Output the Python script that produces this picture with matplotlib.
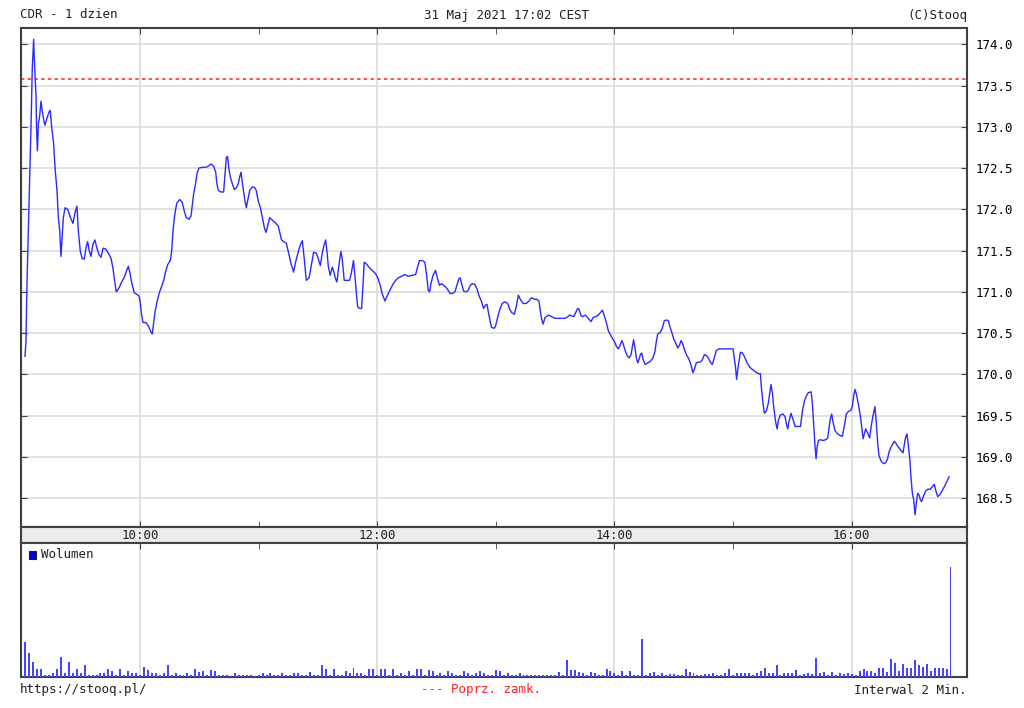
import numpy as np
import matplotlib
matplotlib.use("Agg")
import matplotlib.pyplot as plt
from matplotlib.patches import Rectangle

plt.rcParams['font.family'] = ['DejaVu Sans Mono']
plt.rcParams['font.size'] = 9

# ---- data (minutes after 9:00, price) ----
price_t = [
    1.8, 2.3, 2.8, 3.5, 4.2, 4.9, 5.5, 6.2, 6.5, 7.0, 7.4, 7.7, 8.1, 8.6, 9.2, 9.9,
    10.6, 11.3, 11.9, 13.0, 14.0, 14.6, 15.3, 16.3, 17.0, 18.0, 18.7, 19.4, 20.0,
    20.5, 21.2, 22.1, 23.4, 24.8, 26.1, 27.1, 28.1, 28.8, 29.8, 30.8, 31.8, 32.8,
    33.5, 34.4, 35.2, 36.2, 37.2, 38.2, 39.3, 40.3, 41.3, 42.6, 44.0, 45.3, 46.3,
    47.0, 48.0, 49.4, 50.7, 52.1, 53.4, 54.1, 54.9, 55.9, 57.1, 58.5, 59.5, 60.2,
    60.8, 61.5, 62.9, 64.2, 65.2, 66.2, 66.9, 67.6, 68.6, 69.9, 71.0, 72.0, 73.0,
    74.0, 75.3, 76.0, 76.7, 77.4, 78.0, 78.7, 80.1, 81.4, 82.4, 83.4, 84.8, 85.8,
    86.5, 87.1, 88.1, 88.8, 89.8, 91.7, 93.5, 94.9, 95.9, 97.3, 98.3, 98.9, 99.6,
    101.0, 102.3, 103.0, 103.7, 104.3, 105.0, 105.7, 106.7, 107.7, 108.7, 109.7,
    110.4, 111.1, 111.7, 113.1, 113.8, 114.4, 115.5, 116.8, 117.8, 118.8, 119.8,
    120.9, 121.9, 122.9, 123.7, 124.6, 125.6,
    126.9, 128.3, 129.9, 131.6, 132.6, 134.0, 135.0, 136.4, 137.7, 138.7, 140.1,
    141.1, 142.1, 143.1, 144.1, 145.5, 146.8, 147.8, 149.2, 150.2, 151.2, 152.2,
    152.9, 153.9, 154.6, 155.2, 156.2, 157.3, 158.1, 158.9, 159.6, 160.6, 161.6,
    162.3, 163.3, 164.7, 166.0, 167.0, 168.0, 168.7, 169.4, 170.1, 171.1, 172.1,
    172.8, 173.4, 174.5, 175.8, 177.5, 179.2, 180.5, 181.5, 182.5, 183.9, 185.2,
    186.6, 187.9, 189.3, 190.6, 192.3, 194.0, 195.7, 197.4, 199.4, 200.4, 201.4,
    202.8, 204.1, 205.0, 205.8, 206.5, 207.2, 208.2, 209.5, 210.5, 211.5, 212.6,
    213.6, 214.6, 215.9, 216.9, 217.9, 219.3, 220.3, 221.3, 222.0, 222.7, 223.7,
    225.0, 226.0, 227.1, 228.1, 229.4, 230.4, 231.4, 232.8, 233.8, 234.8, 235.5,
    236.5, 237.8, 239.2, 239.9, 240.9, 241.9, 243.2,
    244.6, 246.0, 247.0, 248.0, 249.4, 250.4, 251.4, 252.4, 253.8, 255.4, 256.8,
    258.1, 259.5, 260.8, 261.8, 262.5, 263.2, 263.9, 264.9, 266.6, 268.3, 269.9,
    272.5, 275.0, 276.4, 277.4, 278.4, 279.4, 280.4, 281.4, 282.1, 283.1, 284.1,
    285.1, 286.1, 287.1, 288.2, 289.2, 290.5, 291.9, 292.9, 293.9, 294.9, 295.9,
    296.9, 298.0, 298.9, 300.0, 301.0, 302.0, 303.0, 303.7, 304.3, 305.3, 306.4,
    307.4, 308.4, 309.1, 309.7, 310.4, 311.1, 311.8, 312.4, 313.1, 313.8, 314.4,
    315.5, 316.8, 318.2, 319.5, 320.5, 321.2, 321.9, 323.2, 324.2, 325.2, 326.3,
    327.3, 327.9, 329.0, 330.0, 331.0, 332.0, 333.0, 333.7, 334.4, 335.4, 336.4,
    337.4, 338.4, 339.1, 339.7, 340.4, 341.4, 342.4, 343.5, 344.5, 345.5, 346.5,
    347.5, 348.5, 349.5, 350.5, 351.5, 352.9, 356.6, 360.0, 360.6, 361.3, 361.8,
    362.3, 363.0, 363.7, 364.7, 365.7,
    367.1, 368.4, 369.8, 371.5, 372.8, 373.8, 374.5, 375.2, 375.9, 376.9, 377.9,
    378.6, 379.2, 379.9, 380.6, 381.6, 382.3, 382.9, 383.9, 385.3, 386.3, 387.0,
    387.7, 388.3, 389.3, 390.4, 391.4, 394.1, 395.1, 396.1, 397.1, 398.1, 399.5,
    400.1, 400.8, 401.5, 402.0, 402.5, 403.2, 404.2, 405.5, 406.9, 407.9, 408.6,
    409.2, 409.9, 410.6, 411.6, 412.9, 414.3, 415.3, 416.3, 417.3, 418.3, 419.7,
    420.4, 421.0, 421.7, 422.4, 423.4, 424.4, 425.1, 425.8, 426.4, 427.1, 428.1,
    429.1, 429.8, 430.8, 431.8, 432.5, 433.2, 433.8, 434.9, 436.2, 437.2, 438.2,
    438.9, 439.9, 440.9, 441.6, 442.6, 443.6, 445.0, 446.0, 446.7, 447.3, 448.0,
    448.7, 449.4, 450.0, 450.7, 451.4, 452.1, 452.7, 453.4, 454.1, 454.8, 455.4,
    456.4, 457.5, 458.5, 459.8, 460.8, 461.8, 462.5, 463.5, 464.5, 465.5, 466.9,
    467.9, 469.3,
]
price = [
    170.22, 170.39, 171.08, 171.74, 172.35, 173.04, 173.71, 174.06, 173.84, 173.57,
    173.37, 172.96, 172.71, 173.04, 173.12, 173.31, 173.18, 173.08, 173.02, 173.11,
    173.18, 173.20, 173.00, 172.80, 172.51, 172.23, 171.90, 171.74, 171.43, 171.61,
    171.90, 172.02, 172.00, 171.90, 171.83, 171.96, 172.04, 171.74, 171.49, 171.40,
    171.40, 171.55, 171.61, 171.49, 171.43, 171.58, 171.63, 171.53, 171.45, 171.42,
    171.53, 171.52, 171.47, 171.41, 171.29, 171.16, 171.00, 171.05, 171.12, 171.18,
    171.27, 171.31, 171.23, 171.10, 170.99, 170.97, 170.95, 170.86, 170.72, 170.63,
    170.63, 170.59, 170.53, 170.49, 170.63, 170.76, 170.88, 171.00, 171.07, 171.14,
    171.25, 171.33, 171.38, 171.49, 171.74, 171.90, 172.00, 172.08, 172.12, 172.08,
    171.98, 171.90, 171.88, 171.92, 172.06, 172.18, 172.31, 172.43, 172.50, 172.51,
    172.51, 172.53, 172.55, 172.52, 172.45, 172.31, 172.23, 172.21, 172.21, 172.43,
    172.63, 172.64, 172.49, 172.39, 172.31, 172.24, 172.26, 172.31, 172.39, 172.45,
    172.33, 172.10, 172.02, 172.10, 172.23, 172.27, 172.27, 172.23, 172.10, 172.02,
    171.90, 171.78, 171.72, 171.80, 171.90,
    171.87, 171.84, 171.80, 171.63, 171.61, 171.59, 171.49, 171.34, 171.24, 171.36,
    171.49, 171.57, 171.62, 171.40, 171.14, 171.17, 171.34, 171.48, 171.47, 171.40,
    171.32, 171.47, 171.55, 171.63, 171.49, 171.32, 171.20, 171.30, 171.24, 171.16,
    171.12, 171.32, 171.49, 171.40, 171.14, 171.14, 171.14, 171.24, 171.38, 171.20,
    171.00, 170.82, 170.80, 170.80, 171.08, 171.36, 171.34, 171.30, 171.26, 171.22,
    171.16, 171.08, 170.98, 170.89, 170.96, 171.03, 171.09, 171.14, 171.17, 171.19,
    171.21, 171.19, 171.20, 171.21, 171.30, 171.38, 171.38, 171.36, 171.20, 171.02,
    171.00, 171.10, 171.20, 171.26, 171.16, 171.08, 171.10, 171.08, 171.06, 171.02,
    170.98, 170.98, 171.00, 171.08, 171.16, 171.17, 171.10, 171.01, 171.00, 171.02,
    171.08, 171.10, 171.09, 171.04, 170.96, 170.88, 170.80, 170.84, 170.85, 170.72,
    170.57, 170.56, 170.59, 170.69, 170.78, 170.86,
    170.88, 170.86, 170.79, 170.75, 170.73, 170.83, 170.96, 170.91, 170.86, 170.86,
    170.89, 170.93, 170.91, 170.91, 170.89, 170.77, 170.67, 170.61, 170.69, 170.72,
    170.70, 170.68, 170.68, 170.68, 170.70, 170.72, 170.71, 170.70, 170.75, 170.80,
    170.79, 170.71, 170.70, 170.72, 170.70, 170.67, 170.64, 170.69, 170.70, 170.72,
    170.75, 170.78, 170.71, 170.63, 170.53, 170.48, 170.44, 170.40, 170.34, 170.31,
    170.36, 170.41, 170.38, 170.30, 170.23, 170.20, 170.24, 170.34, 170.42, 170.32,
    170.20, 170.14, 170.18, 170.24, 170.26, 170.19, 170.12, 170.14, 170.16, 170.20,
    170.28, 170.40, 170.49, 170.51, 170.56, 170.65, 170.66, 170.65, 170.59, 170.51,
    170.43, 170.38, 170.32, 170.36, 170.41, 170.38, 170.30, 170.24, 170.20, 170.14,
    170.08, 170.02, 170.06, 170.14, 170.15, 170.15, 170.18, 170.24, 170.23, 170.20,
    170.15, 170.12, 170.20, 170.29, 170.31, 170.31, 170.31, 170.20, 170.08, 169.94,
    170.04, 170.16, 170.27, 170.26, 170.22,
    170.14, 170.09, 170.06, 170.03, 170.01, 170.01, 169.80, 169.64, 169.53, 169.56,
    169.66, 169.78, 169.88, 169.78, 169.60, 169.42, 169.34, 169.44, 169.51, 169.52,
    169.49, 169.40, 169.34, 169.43, 169.53, 169.45, 169.37, 169.37, 169.56, 169.68,
    169.74, 169.78, 169.79, 169.66, 169.40, 169.12, 168.98, 169.12, 169.20, 169.21,
    169.20, 169.21, 169.23, 169.36, 169.46, 169.52, 169.42, 169.32, 169.28, 169.26,
    169.25, 169.38, 169.52, 169.55, 169.57, 169.62, 169.74, 169.82, 169.76, 169.64,
    169.50, 169.36, 169.22, 169.28, 169.34, 169.29, 169.23, 169.36, 169.50, 169.61,
    169.40, 169.16, 169.02, 168.95, 168.92, 168.93, 168.98, 169.06, 169.12, 169.16,
    169.19, 169.16, 169.12, 169.08, 169.05, 169.16, 169.24, 169.28, 169.14, 168.98,
    168.76, 168.56, 168.48, 168.30, 168.44, 168.56, 168.54, 168.48, 168.46, 168.53,
    168.59, 168.61, 168.61, 168.64, 168.67, 168.60, 168.52, 168.54, 168.58, 168.64,
    168.69, 168.76,
]
prev_close = 173.58

# volume per 2-minute bar (relative units), bars stamped 9:02 .. 16:50
volume = [
    35, 24, 15, 8, 8, 2, 2, 4, 8, 20,
    4, 15, 4, 8, 4, 12, 2, 2, 2, 4,
    4, 8, 6, 2, 8, 2, 6, 4, 4, 2,
    10, 7, 4, 4, 2, 4, 12, 2, 4, 2,
    2, 4, 2, 8, 5, 6, 2, 7, 6, 2,
    2, 2, 1, 4, 2, 2, 2, 2, 1, 2,
    4, 2, 4, 2, 2, 4, 2, 2, 4, 4,
    2, 2, 5, 2, 2, 12, 8, 2, 8, 2,
    2, 6, 4, 9, 4, 4, 2, 8, 8, 2,
    8, 8, 2, 8, 2, 4, 2, 6, 2, 8,
    8, 2, 7, 6, 2, 4, 2, 6, 4, 2,
    2, 6, 4, 2, 4, 6, 4, 2, 2, 7,
    6, 2, 4, 2, 2, 4, 2, 2, 2, 2,
    2, 2, 2, 2, 2, 5, 2, 17, 7, 7,
    5, 4, 2, 5, 4, 2, 2, 8, 6, 4,
    2, 6, 2, 6, 2, 2, 38, 2, 4, 5,
    2, 4, 2, 3, 3, 2, 2, 8, 5, 4,
    2, 2, 3, 3, 4, 2, 2, 4, 8, 2,
    4, 4, 4, 4, 2, 4, 6, 9, 4, 4,
    12, 2, 4, 4, 4, 7, 2, 3, 4, 3,
    19, 4, 5, 2, 5, 2, 4, 3, 4, 3,
    2, 6, 8, 6, 6, 4, 9, 9, 5, 18,
    14, 6, 13, 9, 9, 17, 12, 10, 13, 6,
    9, 9, 9, 8, 110,
]
vol_t = np.arange(2, 2 * len(volume) + 1, 2)

hour_labels = ['10:00', '12:00', '14:00', '16:00']
price_ticks = [168.5, 169.0, 169.5, 170.0, 170.5, 171.0, 171.5, 172.0, 172.5, 173.0, 173.5, 174.0]

W, H = 1024, 708
fig = plt.figure(figsize=(W / 100, H / 100), dpi=100)
fig.patch.set_facecolor('white')

L, R = 21.4, 966.7
def rect(top, bottom):
    return [L / W, 1 - bottom / H, (R - L) / W, (bottom - top) / H]

ax = fig.add_axes(rect(28, 526.7))
band = fig.add_axes(rect(526.7, 542.7))
axv = fig.add_axes(rect(542.7, 676.7))

xmin, xmax = 0, 478.2
grid_c = '#dcdcdc'
edge_c = '#404040'
major = [60, 180, 300, 420]
minor = [120, 240, 360]

# price panel
ax.plot(price_t, price, color='#2a2aff', lw=1.0, zorder=3)
ax.axhline(prev_close, color='#ff2020', lw=1.1, dashes=(2.2, 2.2), zorder=2)
ax.set_xlim(xmin, xmax)
ax.set_ylim(168.156, 174.197)
ax.set_yticks(price_ticks)
ax.set_yticklabels(['%.1f' % v for v in price_ticks])
ax.set_xticks(major)
ax.set_xticks(minor, minor=True)
ax.tick_params(axis='x', which='both', direction='in', top=True, bottom=True,
               labelbottom=False, length=4, color=edge_c)
ax.tick_params(axis='y', direction='in', left=True, right=True, labelleft=False,
               labelright=True, length=4, pad=6, color=edge_c)
ax.grid(True, axis='y', color=grid_c, lw=1.2)
ax.grid(True, axis='x', which='major', color=grid_c, lw=1.2)

# time band
band.set_facecolor('#ececec')
band.set_xlim(xmin, xmax)
band.set_ylim(0, 1)
band.set_yticks([])
band.set_xticks([])
for x, lab in zip(major, hour_labels):
    band.text(x, 0.45, lab, ha='center', va='center', fontsize=9, color='#202020')

# volume panel
axv.bar(vol_t, volume, width=1.0, color='#4545ff', linewidth=0,
        antialiased=False, zorder=3)
axv.set_xlim(xmin, xmax)
axv.set_ylim(0, 134)
axv.set_yticks([])
axv.set_xticks(major)
axv.set_xticks(minor, minor=True)
axv.tick_params(axis='x', which='both', direction='in', top=True, bottom=False,
                labelbottom=False, length=4, color=edge_c)
axv.grid(True, axis='x', which='major', color=grid_c, lw=1.2)

for a in (ax, band, axv):
    for s in a.spines.values():
        s.set_color(edge_c)
        s.set_linewidth(1.5)

# legend square + label
fig.patches.append(Rectangle((28.5 / W, 1 - 559 / H), 7.5 / W, 8 / H,
                             transform=fig.transFigure, facecolor='#0000e0',
                             edgecolor='#202020', lw=0.8))
fig.text(41 / W, 1 - 555 / H, 'Wolumen', ha='left', va='center', color='#202020')

# header
fig.text(20 / W, 1 - 15 / H, 'CDR - 1 dzien', ha='left', va='center', color='#202020')
fig.text(507 / W, 1 - 15 / H, '31 Maj 2021 17:02 CEST', ha='center', va='center', color='#202020')
fig.text(967 / W, 1 - 15 / H, '(C)Stooq', ha='right', va='center', color='#202020')

# footer
fig.text(20 / W, 1 - 690 / H, 'https://stooq.pl/', ha='left', va='center', color='#202020')
fig.text(481 / W, 1 - 690 / H, '--- Poprz. zamk.', ha='center', va='center', color='#ff2020')
fig.text(967 / W, 1 - 690 / H, 'Interwal 2 Min.', ha='right', va='center', color='#202020')

fig.savefig('out.png', dpi=100, facecolor='white')
